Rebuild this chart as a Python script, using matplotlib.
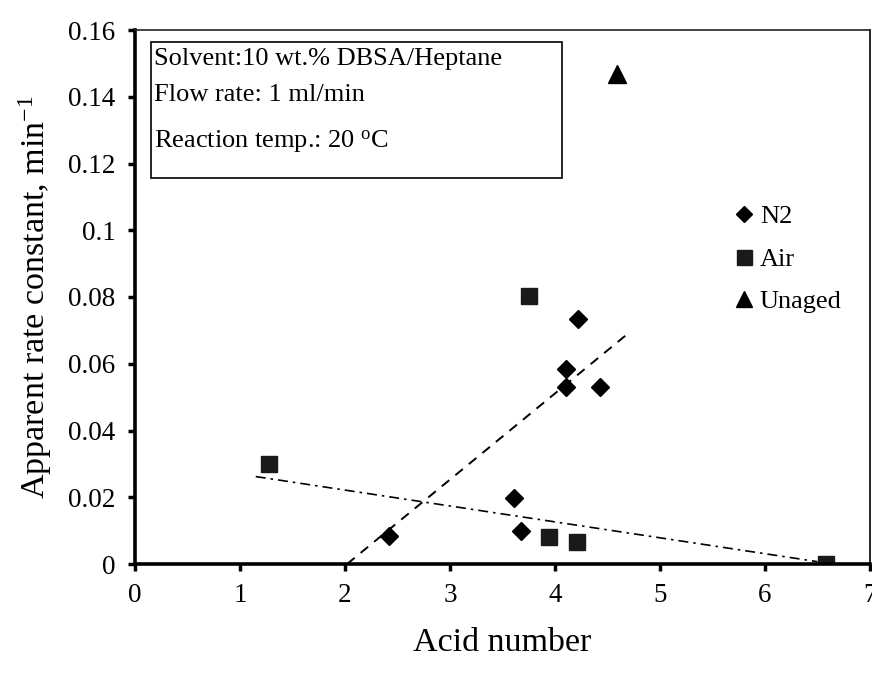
import matplotlib
matplotlib.use("Agg")
import matplotlib.pyplot as plt
from matplotlib.patches import Rectangle

plt.rcParams['font.family'] = ['Liberation Serif', 'DejaVu Serif']
plt.rcParams['mathtext.fontset'] = 'custom'
plt.rcParams['mathtext.rm'] = 'Liberation Serif'
plt.rcParams['mathtext.it'] = 'Liberation Serif:italic'

# ---- data ----
n2_x = [2.42, 3.61, 3.68, 4.10, 4.10, 4.22, 4.43]
n2_y = [0.0085, 0.0197, 0.0100, 0.0584, 0.0531, 0.0734, 0.0531]
air_x = [1.28, 3.75, 3.94, 4.21, 6.58]
air_y = [0.0299, 0.0804, 0.0080, 0.0065, 0.0]
unaged_x = [4.59]
unaged_y = [0.1468]
n2_fit_x = [2.02, 4.67]
n2_fit_y = [0.0, 0.0684]
air_fit_x = [1.15, 6.50]
air_fit_y = [0.0262, 0.0007]

xticks = [0, 1, 2, 3, 4, 5, 6, 7]
yticks = [0, 0.02, 0.04, 0.06, 0.08, 0.1, 0.12, 0.14, 0.16]
ytick_labels = ['0', '0.02', '0.04', '0.06', '0.08', '0.1', '0.12', '0.14', '0.16']
info_lines = ['Solvent:10 wt.% DBSA/Heptane', 'Flow rate: 1 ml/min',
              r'Reaction temp.: 20 $^{\mathrm{o}}$C']

fig = plt.figure(figsize=(8.72, 6.73), dpi=100)
ax = fig.add_axes([135/872, 109/673, 735/872, 534/673])

ax.plot(n2_fit_x, n2_fit_y, color='black', lw=1.4, dashes=(5, 4))
ax.plot(air_fit_x, air_fit_y, color='black', lw=1.2, dashes=(6, 3, 1.5, 3))

ax.plot(n2_x, n2_y, linestyle='none', marker='D', ms=9, color='black', label='N2')
ax.plot(air_x, air_y, linestyle='none', marker='s', ms=12, color='#1a1a1a', label='Air')
ax.plot(unaged_x, unaged_y, linestyle='none', marker='^', ms=13, color='black', label='Unaged')

ax.set_xlim(0, 7)
ax.set_ylim(0, 0.16)
ax.set_xticks(xticks)
ax.set_xticklabels([str(t) for t in xticks])
ax.set_yticks(yticks)
ax.set_yticklabels(ytick_labels)
ax.tick_params(direction='out', length=5, width=2.5, labelsize=19.5, pad=9)

for s in ['left', 'bottom']:
    ax.spines[s].set_linewidth(2.6)
ax.spines['top'].set_linewidth(1.2)
ax.spines['right'].set_linewidth(1.2)
ax.spines['top'].set_color('#222222')

ax.set_xlabel('Acid number', fontsize=24.5, labelpad=14)
ax.set_ylabel(r'Apparent rate constant, min$^{\mathrm{-1}}$', fontsize=24.5, labelpad=10)

# info box
ax.add_patch(Rectangle((0.0218, 0.7228), 0.559, 0.2547, transform=ax.transAxes,
                       fill=False, edgecolor='black', lw=1.2, zorder=3))
for txt, yb in zip(info_lines, [0.9345, 0.867, 0.779]):
    ax.text(0.026, yb, txt, transform=ax.transAxes, fontsize=19, va='baseline', ha='left')

leg = ax.legend(loc='upper left', bbox_to_anchor=(0.80, 0.692), frameon=False,
                fontsize=19, handlelength=0.8, handletextpad=0.2, labelspacing=0.72,
                borderaxespad=0, markerscale=0.9)

fig.savefig('out.png', dpi=100)
